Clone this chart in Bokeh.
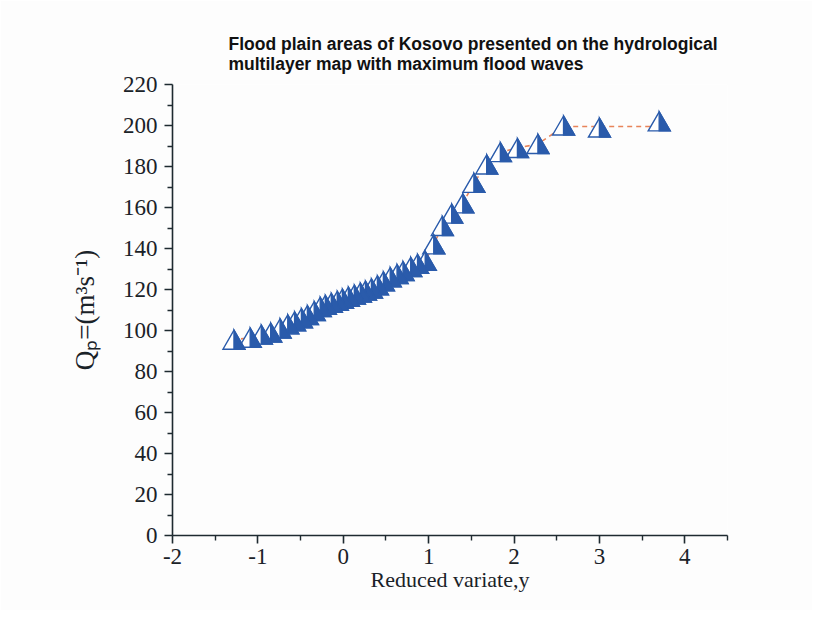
import numpy as np
from bokeh.plotting import figure
from bokeh.models import Range1d, FixedTicker, Title
from bokeh.embed import file_html
from bokeh.resources import INLINE

# Data (reduced variate y, discharge Qp)
reduced_variate = [3.70, 3.00, 2.58, 2.28, 2.04, 1.84, 1.68, 1.53, 1.40, 1.27,
                   1.16, 1.06, 0.96, 0.87, 0.79, 0.70, 0.63, 0.55, 0.47, 0.40,
                   0.33, 0.26, 0.20, 0.13, 0.06, -0.01, -0.07, -0.14, -0.21, -0.27,
                   -0.34, -0.42, -0.49, -0.57, -0.65, -0.74, -0.85, -0.96, -1.09, -1.28]
discharge = [202, 199, 200, 191, 189, 187, 181, 172, 162, 157,
             151, 142, 134, 132.5, 131, 129, 127.5, 126, 124, 122,
             120.5, 119.5, 118.5, 117.5, 116.5, 115.5, 114.5, 113.5, 112.5, 111.5,
             109.5, 107.5, 106, 104.5, 103, 101, 99, 98, 96.5, 95.5]
# dashed line as drawn (flat at the top end)
dashed_q = [199.5, 199.5, 199.5, 191, 189, 187, 181, 172, 162, 157,
            151, 142, 134, 132.5, 131, 129, 127.5, 126, 124, 122,
            120.5, 119.5, 118.5, 117.5, 116.5, 115.5, 114.5, 113.5, 112.5, 111.5,
            109.5, 107.5, 106, 104.5, 103, 101, 99, 98, 96.5, 95.5]
x_ticks = [-2, -1, 0, 1, 2, 3, 4]
y_ticks = list(range(0, 221, 20))
title_lines = ["Flood plain areas of Kosovo presented on the hydrological",
               "multilayer map with maximum flood waves"]

W, H = 812, 610
ML, MR, MT, MB = 172, 85, 84, 75
XMIN, XMAX, YMIN, YMAX = -2, 4.5, 0, 220
frame_w = W - ML - MR
frame_h = H - MT - MB
px_x = frame_w / (XMAX - XMIN)
px_y = frame_h / (YMAX - YMIN)

BG = "#fdfdfd"
BLUE = "#2a5bab"
AX = "#1e2a30"
TXT = "#1a2228"

p = figure(width=W, height=H, output_backend="svg", toolbar_location=None,
           x_range=Range1d(XMIN, XMAX), y_range=Range1d(YMIN, YMAX),
           min_border_left=ML, min_border_right=MR, min_border_top=MT, min_border_bottom=MB,
           background_fill_color=BG, border_fill_color=BG)
p.outline_line_color = None
p.grid.visible = False

# dashed line
p.line(reduced_variate, dashed_q, line_color="#e8845a", line_width=1.6, line_dash="5 4")

# half-filled triangle markers (marker size in pixels -> data units)
mw = 22 / px_x
mh = 19 / px_y
xs, ys, fills = [], [], []
for xv, yv in zip(reduced_variate, discharge):
    xs.append([xv, xv - mw / 2, xv + mw / 2])
    ys.append([yv + mh / 2, yv - mh / 2, yv - mh / 2])
    fills.append("white")
    xs.append([xv, xv, xv + mw / 2])
    ys.append([yv + mh / 2, yv - mh / 2, yv - mh / 2])
    fills.append(BLUE)
p.patches(xs, ys, fill_color=fills, line_color=BLUE, line_width=1.4, line_join="miter")

for ax in (p.xaxis[0], p.yaxis[0]):
    ax.axis_line_color = AX
    ax.axis_line_width = 1.6
    ax.major_tick_line_color = AX
    ax.major_tick_line_width = 1.6
    ax.minor_tick_line_color = AX
    ax.minor_tick_line_width = 1.4
    ax.major_tick_in = 0
    ax.major_tick_out = 8
    ax.minor_tick_in = 0
    ax.minor_tick_out = 5
    ax.major_label_text_font = "Liberation Serif"
    ax.major_label_text_font_size = "23px"
    ax.major_label_text_color = TXT

p.xaxis[0].major_label_standoff = 5
p.yaxis[0].major_label_standoff = 7

p.xaxis[0].ticker = FixedTicker(ticks=x_ticks, minor_ticks=[t + 0.5 for t in x_ticks])
p.xaxis[0].major_label_overrides = {t: str(t) for t in x_ticks}
p.yaxis[0].ticker = FixedTicker(ticks=y_ticks, minor_ticks=[t + 10 for t in y_ticks])

p.yaxis[0].axis_label = "Qₚ=(m³s⁻¹)"
p.yaxis[0].axis_label_text_font = "Liberation Serif"
p.yaxis[0].axis_label_text_font_size = "27px"
p.yaxis[0].axis_label_text_font_style = "normal"
p.yaxis[0].axis_label_text_color = TXT
p.yaxis[0].axis_label_standoff = 20

p.xaxis[0].axis_label = "Reduced variate,y"
p.xaxis[0].axis_label_text_font = "Liberation Serif"
p.xaxis[0].axis_label_text_font_size = "22px"
p.xaxis[0].axis_label_text_font_style = "normal"
p.xaxis[0].axis_label_text_color = TXT
p.xaxis[0].axis_label_standoff = 0

p.add_layout(Title(text="\n".join(title_lines), align="left", offset=56, standoff=22,
                   text_font="Liberation Sans", text_font_size="17.5px",
                   text_font_style="bold", text_color="#111111", text_line_height=1.0),
             "above")

open("out.html", "w").write(file_html(p, INLINE))
